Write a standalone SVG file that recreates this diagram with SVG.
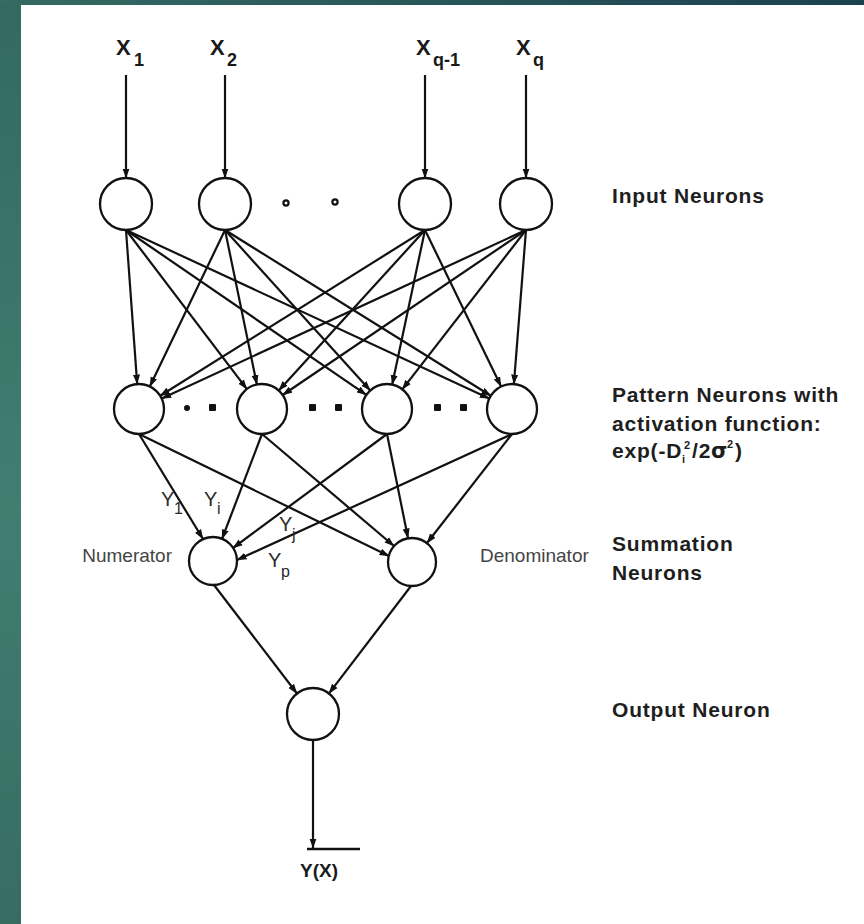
<svg xmlns="http://www.w3.org/2000/svg" width="864" height="924" viewBox="0 0 864 924">
  <defs>
    <linearGradient id="sideBand" x1="0" y1="0" x2="0" y2="1">
      <stop offset="0" stop-color="#336960"/>
      <stop offset="0.55" stop-color="#417e72"/>
      <stop offset="1" stop-color="#376c63"/>
    </linearGradient>
    <linearGradient id="topBand" x1="0" y1="0" x2="1" y2="0">
      <stop offset="0" stop-color="#356b63"/>
      <stop offset="1" stop-color="#1b4150"/>
    </linearGradient>
    <marker id="arrow" markerUnits="userSpaceOnUse" markerWidth="10" markerHeight="8" viewBox="0 0 10 8" refX="9.5" refY="4" orient="auto">
      <path d="M0,0.5 L10,4 L0,7.5 Z" fill="#111"/>
    </marker>
    <style>
      .neuron { fill: #fff; stroke: #111; stroke-width: 2.3; }
      .edge { stroke: #111; stroke-width: 2.2; fill: none; marker-end: url(#arrow); }
      .plain { stroke: #111; stroke-width: 2.4; fill: none; }
      .lab { font-family: "Liberation Sans", Arial, sans-serif; font-weight: bold; font-size: 21px; letter-spacing: 0.8px; fill: #1e1e1e; }
      .xl { font-family: "Liberation Sans", Arial, sans-serif; font-weight: bold; font-size: 22px; fill: #1a1a1a; }
      .xs { font-size: 18px; }
      .yx { font-family: "Liberation Sans", Arial, sans-serif; font-weight: bold; font-size: 19px; fill: #1a1a1a; }
      .nd { font-family: "Liberation Sans", Arial, sans-serif; font-size: 19px; fill: #444; }
      .yl { font-family: "Liberation Sans", Arial, sans-serif; font-size: 20px; fill: #2a2a2a; }
      .ys { font-size: 16px; }
      .dot { fill: #111; }
    </style>
  </defs>

  <!-- page frame -->
  <rect x="0" y="0" width="864" height="924" fill="url(#sideBand)"/>
  <rect x="0" y="0" width="864" height="5" fill="url(#topBand)"/>
  <rect x="21" y="5" width="843" height="919" fill="#fff"/>

  <!-- input labels -->
  <g id="labels-inputs">
    <text class="xl" x="116" y="55">X<tspan class="xs" x="134" y="66">1</tspan></text>
    <text class="xl" x="210" y="55">X<tspan class="xs" x="227" y="66">2</tspan></text>
    <text class="xl" x="416" y="55">X<tspan class="xs" x="433" y="66">q-1</tspan></text>
    <text class="xl" x="516" y="55">X<tspan class="xs" x="533" y="66">q</tspan></text>
  </g>

  <!-- connectors -->
  <g id="connectors">
    <!-- external inputs -->
    <line class="edge" x1="126" y1="75" x2="126" y2="178"/>
    <line class="edge" x1="225" y1="75" x2="225" y2="178"/>
    <line class="edge" x1="425" y1="75" x2="425" y2="178"/>
    <line class="edge" x1="526" y1="75" x2="526" y2="178"/>

    <!-- input layer to pattern layer -->
    <line class="edge" x1="126" y1="230" x2="137.2" y2="384.1"/>
    <line class="edge" x1="126" y1="230" x2="246.9" y2="389.1"/>
    <line class="edge" x1="126" y1="230" x2="366.4" y2="394.9"/>
    <line class="edge" x1="126" y1="230" x2="489.3" y2="398.5"/>
    <line class="edge" x1="225" y1="230" x2="149.8" y2="386.5"/>
    <line class="edge" x1="225" y1="230" x2="256.9" y2="384.5"/>
    <line class="edge" x1="225" y1="230" x2="370.2" y2="390.5"/>
    <line class="edge" x1="225" y1="230" x2="490.8" y2="395.8"/>
    <line class="edge" x1="425" y1="230" x2="160.2" y2="395.7"/>
    <line class="edge" x1="425" y1="230" x2="278.8" y2="390.5"/>
    <line class="edge" x1="425" y1="230" x2="392.2" y2="384.5"/>
    <line class="edge" x1="425" y1="230" x2="501.1" y2="386.5"/>
    <line class="edge" x1="526" y1="230" x2="161.7" y2="398.5"/>
    <line class="edge" x1="526" y1="230" x2="282.7" y2="395.0"/>
    <line class="edge" x1="526" y1="230" x2="402.3" y2="389.3"/>
    <line class="edge" x1="526" y1="230" x2="513.9" y2="384.1"/>

    <!-- pattern layer to summation layer -->
    <line class="edge" x1="139" y1="434" x2="203" y2="539"/>
    <line class="edge" x1="262" y1="434" x2="222" y2="539"/>
    <line class="edge" x1="387" y1="434" x2="233" y2="548"/>
    <line class="edge" x1="512" y1="434" x2="237" y2="560"/>
    <line class="edge" x1="139" y1="434" x2="389" y2="556"/>
    <line class="edge" x1="262" y1="434" x2="394" y2="546"/>
    <line class="edge" x1="387" y1="434" x2="408" y2="538"/>
    <line class="edge" x1="512" y1="434" x2="427" y2="543"/>

    <!-- summation layer to output -->
    <line class="edge" x1="214" y1="585" x2="297" y2="693.5"/>
    <line class="edge" x1="411" y1="586" x2="329" y2="693.4"/>

    <!-- output -->
    <line class="edge" x1="313" y1="740" x2="313" y2="848"/>
    <line class="plain" x1="307" y1="849" x2="360" y2="849"/>
  </g>

  <!-- input neurons -->
  <g id="input-1"><circle class="neuron" cx="126" cy="204" r="26"/></g>
  <g id="input-2"><circle class="neuron" cx="225" cy="204" r="26"/></g>
  <g id="input-q-1"><circle class="neuron" cx="425" cy="204" r="26"/></g>
  <g id="input-q"><circle class="neuron" cx="526" cy="204" r="26"/></g>
  <g id="input-ellipsis">
    <circle cx="286" cy="203" r="2.6" fill="none" stroke="#111" stroke-width="2.2"/>
    <circle cx="335" cy="202" r="2.6" fill="none" stroke="#111" stroke-width="2.2"/>
  </g>

  <!-- pattern neurons -->
  <g id="pattern-1"><circle class="neuron" cx="139" cy="409" r="25"/></g>
  <g id="pattern-i"><circle class="neuron" cx="262" cy="409" r="25"/></g>
  <g id="pattern-j"><circle class="neuron" cx="387" cy="409" r="25"/></g>
  <g id="pattern-p"><circle class="neuron" cx="512" cy="409" r="25"/></g>
  <g id="pattern-ellipsis">
    <circle class="dot" cx="187" cy="408" r="3"/>
    <rect class="dot" x="209" y="404" width="7" height="7" rx="1"/>
    <rect class="dot" x="309" y="404" width="7" height="7" rx="1"/>
    <rect class="dot" x="335" y="404" width="7" height="7" rx="1"/>
    <rect class="dot" x="434" y="404" width="7" height="7" rx="1"/>
    <rect class="dot" x="460" y="404" width="7" height="7" rx="1"/>
  </g>

  <!-- summation neurons -->
  <g id="numerator">
    <circle class="neuron" cx="213" cy="561" r="24"/>
    <text class="nd" x="172" y="562" text-anchor="end">Numerator</text>
  </g>
  <g id="denominator">
    <circle class="neuron" cx="412" cy="562" r="24"/>
    <text class="nd" x="480" y="562">Denominator</text>
  </g>

  <!-- weight labels -->
  <g id="weight-labels">
    <text class="yl" x="161" y="506">Y<tspan class="ys" x="174" y="514">1</tspan></text>
    <text class="yl" x="204" y="506">Y<tspan class="ys" x="217" y="514">i</tspan></text>
    <text class="yl" x="279" y="531">Y<tspan class="ys" x="292" y="540">j</tspan></text>
    <text class="yl" x="268" y="567">Y<tspan class="ys" x="281" y="577">p</tspan></text>
  </g>

  <!-- output neuron -->
  <g id="output">
    <circle class="neuron" cx="313" cy="714" r="26"/>
    <text class="yx" x="300" y="877">Y(X)</text>
  </g>

  <!-- layer captions -->
  <g id="captions">
    <text class="lab" x="612" y="203">Input Neurons</text>
    <text class="lab" x="612" y="402">Pattern Neurons with</text>
    <text class="lab" x="612" y="431">activation function:</text>
    <text class="lab" x="612" y="458">exp(-D<tspan font-size="11" x="682" y="463">i</tspan><tspan font-size="11" x="684" y="449">2</tspan><tspan x="692" y="458">/2</tspan><tspan font-family="'DejaVu Sans', sans-serif" x="711" y="458">σ</tspan><tspan font-size="11" x="727" y="448">2</tspan><tspan x="735" y="458">)</tspan></text>
    <text class="lab" x="612" y="551">Summation</text>
    <text class="lab" x="612" y="580">Neurons</text>
    <text class="lab" x="612" y="717">Output Neuron</text>
  </g>
</svg>
